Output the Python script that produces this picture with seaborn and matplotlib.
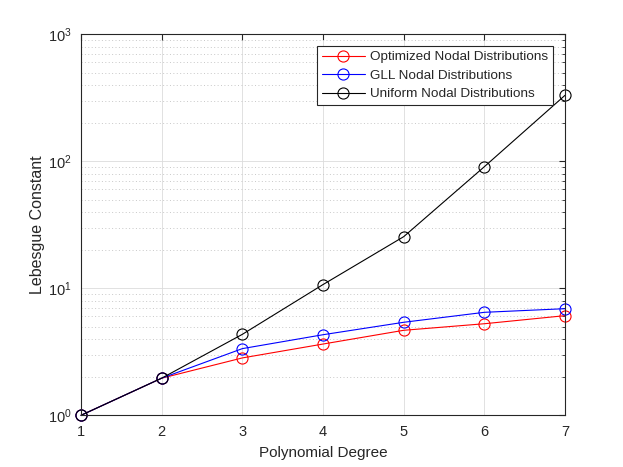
import numpy as np
import pandas as pd
import matplotlib
matplotlib.use("Agg")
import matplotlib.pyplot as plt
import seaborn as sns
from matplotlib.ticker import LogLocator, NullFormatter

# data
degree = [1, 2, 3, 4, 5, 6, 7]
optimized = [1.0, 1.96, 2.83, 3.64, 4.67, 5.26, 6.09]
gll = [1.0, 1.96, 3.35, 4.31, 5.40, 6.47, 6.91]
uniform = [1.0, 1.96, 4.34, 10.7, 25.5, 90.7, 331.0]
labels = ["Optimized Nodal Distributions", "GLL Nodal Distributions", "Uniform Nodal Distributions"]
colors = ["#ff0000", "#0000ff", "#000000"]

df = pd.DataFrame({
    "degree": degree * 3,
    "value": optimized + gll + uniform,
    "series": [labels[0]] * 7 + [labels[1]] * 7 + [labels[2]] * 7,
})

sns.set_style("white")
plt.rcParams["font.family"] = ["Liberation Sans", "DejaVu Sans"]
axcol = "#262626"

fig = plt.figure(figsize=(6.23, 4.67), dpi=100)
ax = fig.add_axes([0.130, 0.1107, 0.777, 0.8159])

sns.lineplot(data=df, x="degree", y="value", hue="series", hue_order=labels,
             palette=colors, marker="o", markersize=8, markerfacecolor="none",
             markeredgewidth=0.8, linewidth=0.8, ax=ax, legend=False)
lines = ax.get_lines()[:3]
for line, c in zip(lines, colors):
    line.set_markeredgecolor(c)
    line.set_clip_on(False)

ax.set_yscale("log")
ax.set_xlim(1, 7)
ax.set_ylim(1, 1000)
ax.set_xticks(degree)
ax.yaxis.set_major_locator(LogLocator(base=10, numticks=10))
ax.yaxis.set_minor_locator(LogLocator(base=10, subs=np.arange(2, 10), numticks=10))
ax.yaxis.set_minor_formatter(NullFormatter())

ax.grid(True, which="major", color="#dcdcdc", linewidth=0.6, linestyle="-")
ax.grid(True, which="minor", axis="y", color="#c8c8c8", linewidth=0.7, linestyle=(0, (1, 2.5)))
ax.set_axisbelow(True)

for s in ax.spines.values():
    s.set_color(axcol)
    s.set_linewidth(0.8)
ax.tick_params(which="both", direction="in", top=True, right=True, colors=axcol,
               labelsize=10.5, labelcolor=axcol)
ax.tick_params(which="major", length=4.5, pad=7)
ax.tick_params(which="minor", length=2.5)

ax.set_xlabel("Polynomial Degree", fontsize=11, color=axcol, labelpad=5)
ax.set_ylabel("Lebesgue Constant", fontsize=11.5, color=axcol, labelpad=2)

leg = ax.legend(lines, labels, loc="upper right", bbox_to_anchor=(0.975, 0.969), fontsize=9.7,
                frameon=True, fancybox=False, framealpha=1, edgecolor=axcol,
                borderpad=0.35, handlelength=3.2, labelspacing=0.45, handletextpad=0.4,
                borderaxespad=0)
leg.get_frame().set_linewidth(0.8)

fig.savefig("out.png", dpi=100)
